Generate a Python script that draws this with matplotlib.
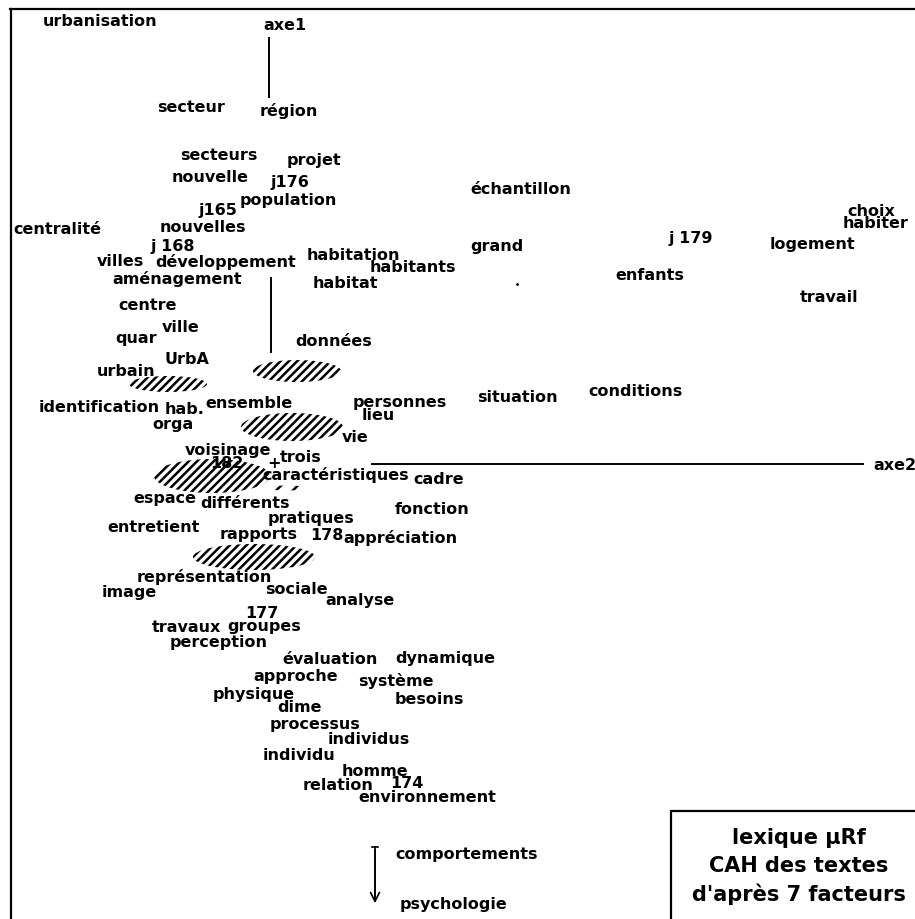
import matplotlib
matplotlib.use('Agg')
import matplotlib.pyplot as plt
from matplotlib.patches import Ellipse, Rectangle

plt.rcParams['font.family'] = ['DejaVu Sans']
plt.rcParams['hatch.linewidth'] = 1.8

## words of the factorial map (left edge, vertical centre, in map units)
words = ['urbanisation', 'axe1', 'secteur', 'région', 'secteurs', 'projet',
         'nouvelle', 'j176', 'population', 'j165', 'centralité', 'nouvelles',
         'j 168', 'villes', 'développement', 'habitation', 'habitants',
         'aménagement', 'habitat', 'échantillon', 'choix', 'habiter', 'grand',
         'j 179', 'logement', 'enfants', 'travail', 'centre', 'ville', 'quar',
         'données', 'UrbA', 'urbain', 'identification', 'hab.', 'ensemble',
         'orga', 'personnes', 'lieu', 'vie', 'voisinage', '182', '+', 'trois',
         'caractéristiques', 'cadre', 'axe2', 'espace', 'différents',
         'fonction', 'pratiques', 'entretient', 'rapports', '178',
         'appréciation', 'situation', 'conditions', 'représentation', 'image',
         'sociale', 'analyse', '177', 'travaux', 'groupes', 'perception',
         'évaluation', 'dynamique', 'approche', 'système', 'physique',
         'besoins', 'dime', 'processus', 'individus', 'individu', 'homme',
         'relation', '174', 'environnement', 'comportements', 'psychologie']
word_x = [43, 263, 157, 260, 180, 287,
          172, 270, 240, 198, 13, 160,
          150, 97, 155, 307, 370,
          112, 313, 470, 847, 843, 470,
          668, 770, 615, 800, 118, 162, 115,
          295, 165, 97, 39, 165, 205,
          152, 353, 362, 342, 185, 210, 267, 280,
          262, 413, 873, 133, 200,
          395, 268, 107, 220, 310,
          343, 477, 588, 137, 102,
          265, 325, 245, 152, 227, 170,
          282, 395, 253, 358, 213,
          395, 277, 270, 328, 263, 342,
          303, 390, 358, 395, 400]
word_y = [22, 26, 107, 111, 156, 161,
          177, 183, 200, 210, 229, 227,
          247, 262, 262, 255, 268,
          279, 283, 189, 211, 223, 246,
          239, 245, 275, 297, 306, 327, 338,
          342, 359, 371, 408, 410, 403,
          425, 402, 415, 438, 450, 464, 464, 457,
          475, 480, 465, 499, 503,
          510, 518, 528, 535, 535,
          538, 397, 391, 577, 593,
          590, 600, 614, 627, 627, 643,
          660, 658, 676, 681, 694,
          700, 707, 724, 739, 755, 772,
          786, 783, 797, 855, 905]

## hatched cluster zones: centre x, centre y, width, height
zone_x = [297, 168, 292, 212, 254]
zone_y = [371, 384, 427, 476, 557]
zone_w = [88, 78, 102, 116, 122]
zone_h = [22, 16, 28, 34, 26]

legend_lines = ['lexique µRf', 'CAH des textes', "d'après 7 facteurs"]

fig = plt.figure(figsize=(9.15, 9.19), dpi=100)
ax = fig.add_axes([0, 0, 1, 1])
ax.set_xlim(0, 915)
ax.set_ylim(919, 0)
ax.axis('off')

# frame (top and left only, the scan is cut on the other sides)
ax.plot([10, 915], [9, 9], color='black', lw=1.6)
ax.plot([11, 11], [9, 919], color='black', lw=1.6)

# axes of the map
ax.plot([269, 269], [38, 97], color='black', lw=1.4)
ax.plot([271, 271], [278, 352], color='black', lw=1.4)
ax.plot([372, 863], [464, 464], color='black', lw=1.4)
ax.annotate('', xy=(375, 906), xytext=(375, 847),
            arrowprops=dict(arrowstyle='->', color='black', lw=1.2,
                            mutation_scale=16))
ax.plot([372, 378], [847, 847], color='black', lw=1.2)
ax.plot([375, 375], [847, 900], color='black', lw=1.2)

for cx, cy, w, h in zip(zone_x, zone_y, zone_w, zone_h):
    ax.add_patch(Ellipse((cx, cy), w, h, facecolor='none', edgecolor='black',
                         lw=0, hatch='////'))
ax.add_patch(Ellipse((287, 488), 40, 5, facecolor='none', edgecolor='black',
                     lw=0, hatch='//'))

for w, x, y in zip(words, word_x, word_y):
    ax.text(x, y, w, ha='left', va='center', fontsize=11.5,
            fontweight='bold', color='black')

ax.plot([517], [284], marker='.', color='black', markersize=2)

# legend box
ax.add_patch(Rectangle((671, 811), 260, 120, facecolor='white',
                       edgecolor='black', lw=1.6))
for i, line in enumerate(legend_lines):
    ax.text(799, 838 + i * 28, line, ha='center', va='center', fontsize=15,
            fontweight='bold', color='black')

fig.savefig('out.png', dpi=100)
